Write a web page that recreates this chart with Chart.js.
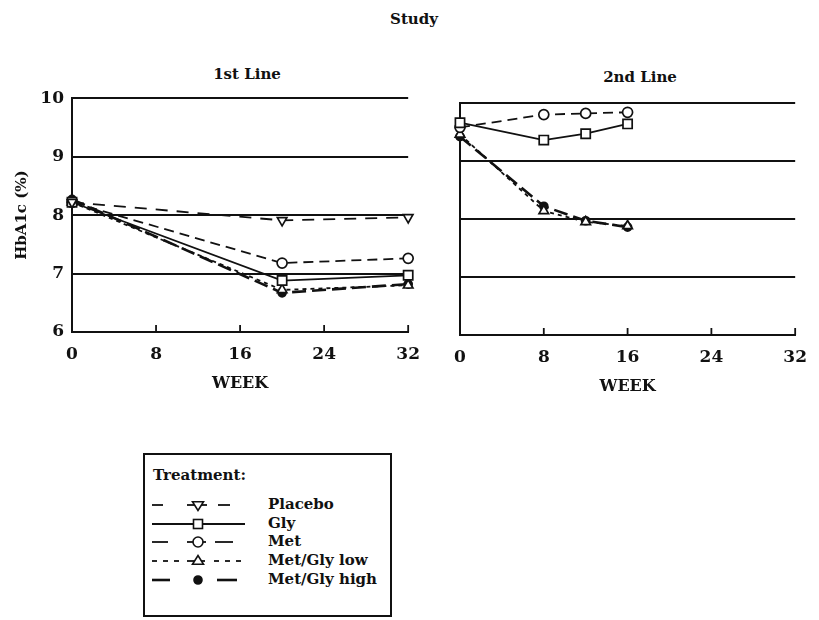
<!DOCTYPE html>
<html lang="en">
<head>
<meta charset="UTF-8">
<title>Study - HbA1c by week</title>
<script src="https://cdn.jsdelivr.net/npm/chart.js"></script>
<style>
    body {
        margin: 0;
        background: #fff;
        font-family: "DejaVu Serif", serif;
        font-weight: bold;
        color: #111;
    }
    .page {
        position: relative;
        width: 819px;
        height: 620px;
        overflow: hidden;
    }
    .label {
        position: absolute;
        transform: translate(-50%, -50%);
        white-space: nowrap;
        font-size: 15px;
    }
    .panel {
        position: absolute;
    }
    .legend-box {
        position: absolute;
        left: 143px;
        top: 453px;
        width: 245px;
        height: 160px;
        border: 2px solid #111;
        font-size: 15px;
    }
    .legend-box .head {
        position: absolute;
        left: 8px;
        top: 11px;
    }
    .legend-row {
        position: absolute;
        left: 7px;
        height: 18px;
    }
    .legend-row svg {
        position: absolute;
        left: 0;
        top: 0;
    }
    .legend-row span {
        position: absolute;
        left: 116px;
        top: -1px;
        white-space: nowrap;
    }
</style>
</head>
<body>
<div class="page">
    <div class="label" style="left:414px; top:19px;">Study</div>
    <div class="label" style="left:247px; top:74px;">1st Line</div>
    <div class="label" style="left:640px; top:77px;">2nd Line</div>

    <div class="panel" style="left:0; top:80px; width:432px; height:320px;">
        <canvas id="firstLine" width="432" height="320"></canvas>
    </div>
    <div class="panel" style="left:440px; top:85px; width:379px; height:320px;">
        <canvas id="secondLine" width="379" height="320"></canvas>
    </div>

    <div class="legend-box" id="legend">
        <div class="head">Treatment:</div>
    </div>
</div>

<script>
// --- data ---
const treatments = ['Placebo', 'Gly', 'Met', 'Met/Gly low', 'Met/Gly high'];
const xTicks = [0, 8, 16, 24, 32];
const yTicks = [6, 7, 8, 9, 10];

// 1st line: weeks 0, 20, 32
const weeksFirst = [0, 20, 32];
const placeboFirst = [8.22, 7.91, 7.96];
const glyFirst = [8.22, 6.88, 6.97];
const metFirst = [8.22, 7.18, 7.26];
const lowFirst = [8.22, 6.72, 6.80];
const highFirst = [8.27, 6.67, 6.82];

// 2nd line: weeks 0, 8, 12, 16 (no placebo arm)
const weeksSecond = [0, 8, 12, 16];
const glySecond = [9.66, 9.36, 9.47, 9.64];
const metSecond = [9.58, 9.80, 9.82, 9.84];
const lowSecond = [9.46, 8.14, 7.95, 7.88];
const highSecond = [9.42, 8.22, 7.97, 7.86];

// line / marker look for each treatment
const looks = {
    'Placebo':      { dash: [12, 9], point: 'triangle', rotation: 180, radius: 5.5, fill: '#fff', width: 1.8 },
    'Gly':          { dash: [],      point: 'rect',     rotation: 0,   radius: 6.5, fill: '#fff', width: 1.8 },
    'Met':          { dash: [10, 6], point: 'circle',   rotation: 0,   radius: 5, fill: '#fff', width: 1.8 },
    'Met/Gly low':  { dash: [4, 4],  point: 'triangle', rotation: 0,   radius: 5.5, fill: '#fff', width: 1.8 },
    'Met/Gly high': { dash: [14, 6], point: 'circle',   rotation: 0,   radius: 4, fill: '#111', width: 2.6 }
};

const FONT = "'DejaVu Serif', serif";
const INK = '#111';

function toPoints(xs, ys) {
    return xs.map((x, i) => ({ x: x, y: ys[i] }));
}

function makeDataset(name, xs, ys) {
    const l = looks[name];
    return {
        label: name,
        data: toPoints(xs, ys),
        borderColor: INK,
        borderWidth: l.width,
        borderDash: l.dash,
        pointStyle: l.point,
        rotation: l.rotation,
        pointRadius: l.radius,
        pointBackgroundColor: l.fill,
        pointBorderColor: INK,
        pointBorderWidth: 1.7,
        tension: 0,
        clip: false
    };
}

// small upward tick marks on the week axis
const innerTicks = {
    id: 'innerTicks',
    afterDraw(chart) {
        const { ctx, chartArea, scales } = chart;
        const x = scales.x;
        ctx.save();
        ctx.strokeStyle = INK;
        ctx.lineWidth = 1.8;
        x.ticks.forEach(t => {
            if (t.value === 0) return;
            const px = x.getPixelForValue(t.value);
            ctx.beginPath();
            ctx.moveTo(px, chartArea.bottom);
            ctx.lineTo(px, chartArea.bottom - 7);
            ctx.stroke();
        });
        ctx.restore();
    }
};

function makeChart(canvasId, datasets, opts) {
    return new Chart(document.getElementById(canvasId), {
        type: 'line',
        data: { datasets: datasets },
        options: {
            responsive: false,
            animation: false,
            events: [],
            layout: { padding: { top: 18, right: opts.padRight, left: 0, bottom: 0 } },
            plugins: { legend: { display: false }, tooltip: { enabled: false } },
            scales: {
                x: {
                    type: 'linear',
                    min: 0,
                    max: 32,
                    afterBuildTicks: s => { s.ticks = xTicks.map(v => ({ value: v })); },
                    afterFit: s => { s.height = opts.xHeight; },
                    grid: { display: false, drawTicks: false },
                    border: { display: true, color: INK, width: 2 },
                    ticks: { color: INK, padding: 12, font: { family: FONT, size: 17, weight: 'bold' } },
                    title: {
                        display: true,
                        text: 'WEEK',
                        color: INK,
                        padding: { top: opts.titlePad, bottom: opts.titlePad },
                        font: { family: FONT, size: 16, weight: 'bold' }
                    }
                },
                y: {
                    type: 'linear',
                    min: 6,
                    max: 10,
                    afterBuildTicks: s => { s.ticks = yTicks.map(v => ({ value: v })); },
                    afterFit: s => { s.width = opts.yWidth; },
                    grid: {
                        drawTicks: false,
                        lineWidth: 1.9,
                        color: c => (c.tick && c.tick.value === 6) ? 'rgba(0,0,0,0)' : INK
                    },
                    border: { display: true, color: INK, width: 2 },
                    ticks: {
                        display: opts.showY,
                        color: INK,
                        padding: 8,
                        font: { family: FONT, size: 17, weight: 'bold' }
                    },
                    title: {
                        display: opts.showY,
                        text: 'HbA1c (%)',
                        color: INK,
                        padding: { top: 13, bottom: 13 },
                        font: { family: FONT, size: 15, weight: 'bold' }
                    }
                }
            }
        },
        plugins: [innerTicks]
    });
}

makeChart('firstLine', [
    makeDataset('Placebo', weeksFirst, placeboFirst),
    makeDataset('Gly', weeksFirst, glyFirst),
    makeDataset('Met', weeksFirst, metFirst),
    makeDataset('Met/Gly low', weeksFirst, lowFirst),
    makeDataset('Met/Gly high', weeksFirst, highFirst)
], { padRight: 14, xHeight: 68, yWidth: 72, titlePad: 6.4, showY: true });

makeChart('secondLine', [
    makeDataset('Gly', weeksSecond, glySecond),
    makeDataset('Met', weeksSecond, metSecond),
    makeDataset('Met/Gly low', weeksSecond, lowSecond),
    makeDataset('Met/Gly high', weeksSecond, highSecond)
], { padRight: 11, xHeight: 70, yWidth: 20, titlePad: 8.4, showY: false });

// legend: line segments around a marker, one row per treatment
const legendSegments = {
    'Placebo':      [[0, 11], [35, 55], [66, 78]],
    'Gly':          [[0, 93]],
    'Met':          [[0, 16], [35, 54], [63, 81]],
    'Met/Gly low':  [[0, 5], [11, 16], [22, 27], [35, 53], [62, 67], [73, 78], [84, 89]],
    'Met/Gly high': [[0, 18], [65, 85]]
};

function markerSvg(name, cx, cy) {
    const l = looks[name];
    const s = 'stroke="#111" stroke-width="1.6"';
    if (l.point === 'circle') return `<circle cx="${cx}" cy="${cy}" r="${l.radius}" fill="${l.fill}" ${s}/>`;
    if (l.point === 'rect') return `<rect x="${cx - 4.5}" y="${cy - 4.5}" width="9" height="9" fill="${l.fill}" ${s}/>`;
    const r = l.radius;
    const d = l.rotation === 180 ? 1 : -1;
    return `<polygon points="${cx - r},${cy - d * r * 0.6} ${cx + r},${cy - d * r * 0.6} ${cx},${cy + d * r}" fill="${l.fill}" ${s}/>`;
}

const legend = document.getElementById('legend');
const rowTops = [41, 60, 78, 97, 116];
treatments.forEach((name, i) => {
    const row = document.createElement('div');
    row.className = 'legend-row';
    row.style.top = rowTops[i] + 'px';
    const segs = legendSegments[name].map(([a, b]) =>
        `<line x1="${a}" y1="9" x2="${b}" y2="9" stroke="#111" stroke-width="${looks[name].width}"/>`).join('');
    row.innerHTML = `<svg width="100" height="18">${segs}${markerSvg(name, 46, 9)}</svg><span>${name}</span>`;
    legend.appendChild(row);
});
</script>
</body>
</html>
